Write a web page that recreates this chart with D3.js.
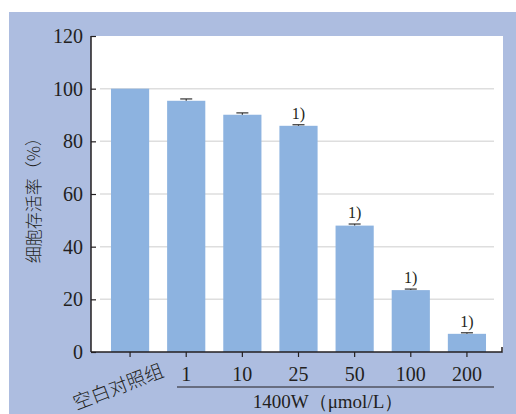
<!DOCTYPE html>
<html>
<head>
<meta charset="utf-8">
<script src="https://cdn.jsdelivr.net/npm/d3@7"></script>
<style>
  body { margin: 0; background: #fff; }
  svg { display: block; }
</style>
</head>
<body>
<div id="chart"></div>
<script>
const categories = ["空白对照组", "1", "10", "25", "50", "100", "200"];
const values = [100, 95.4, 90.1, 85.9, 48.0, 23.5, 6.9];
const errors = [0, 0.7, 0.7, 0.4, 0.6, 0.4, 0.4];
const marks = ["", "", "", "1)", "1)", "1)", "1)"];
const yTicks = [0, 20, 40, 60, 80, 100, 120];

const width = 516;
const height = 414;
const serif = "'Liberation Serif', 'Times New Roman', serif";
const cjk = "'Noto Sans CJK SC', sans-serif";

const svg = d3.select("#chart")
  .append("svg")
  .attr("width", width)
  .attr("height", height);

// blue panel + white plot area
svg.append("rect").attr("x", 9).attr("y", 12).attr("width", width - 9).attr("height", height - 12).attr("fill", "#adbde0");
svg.append("rect").attr("x", 91).attr("y", 36).attr("width", 412).attr("height", 316).attr("fill", "#fff");

const x = d3.scaleBand()
  .domain(categories)
  .range([102, 495])
  .paddingInner(0.32)
  .paddingOuter(0.16);

const y = d3.scaleLinear()
  .domain([0, 120])
  .range([352, 36]);

// grid lines
svg.append("g")
  .selectAll("line")
  .data(yTicks.filter((d) => d > 0 && d < 120))
  .enter()
  .append("line")
  .attr("x1", 100)
  .attr("x2", 494)
  .attr("y1", (d) => y(d))
  .attr("y2", (d) => y(d))
  .attr("stroke", "#dedede")
  .attr("stroke-width", 1.5);

// bars
svg.selectAll(".bar")
  .data(categories)
  .enter()
  .append("rect")
  .attr("class", "bar")
  .attr("x", (d) => x(d))
  .attr("y", (d, i) => y(values[i]))
  .attr("width", x.bandwidth())
  .attr("height", (d, i) => y(0) - y(values[i]))
  .attr("fill", "#8db3e0");

// error bars
const eb = svg.append("g").attr("stroke", "#333").attr("stroke-width", 1.2);
categories.forEach((c, i) => {
  if (!errors[i]) return;
  const cx = x(c) + x.bandwidth() / 2;
  eb.append("line").attr("x1", cx).attr("x2", cx).attr("y1", y(values[i])).attr("y2", y(values[i] + errors[i]));
  eb.append("line").attr("x1", cx - 6).attr("x2", cx + 6).attr("y1", y(values[i] + errors[i])).attr("y2", y(values[i] + errors[i]));
});

// "1)" marks
svg.selectAll(".mark")
  .data(categories)
  .enter()
  .append("text")
  .attr("x", (d) => x(d) + x.bandwidth() / 2)
  .attr("y", (d, i) => y(values[i] + errors[i]) - 6)
  .attr("text-anchor", "middle")
  .attr("font-family", serif)
  .attr("font-size", 16)
  .attr("fill", "#231f20")
  .text((d, i) => marks[i]);

// y axis
const yAxis = svg.append("g")
  .attr("transform", "translate(91,0)")
  .call(d3.axisRight(y).tickValues(yTicks).tickSize(5).tickPadding(0));
yAxis.select(".domain").attr("stroke", "#231f20").attr("stroke-width", 1.5).attr("d", "M0,36V352");
yAxis.selectAll(".tick line").attr("stroke", "#231f20").attr("stroke-width", 1.2);
yAxis.selectAll(".tick text")
  .attr("x", -8)
  .attr("text-anchor", "end")
  .attr("font-family", serif)
  .attr("font-size", 20)
  .attr("fill", "#231f20");

// x axis
const xAxis = svg.append("g")
  .attr("transform", "translate(0,352)")
  .call(d3.axisBottom(x).tickSize(5).tickPadding(6));
xAxis.select(".domain").attr("stroke", "#231f20").attr("stroke-width", 1.5).attr("d", "M91,0H502V-5");
xAxis.selectAll(".tick line").attr("stroke", "#231f20").attr("stroke-width", 1.2);
xAxis.selectAll(".tick text")
  .attr("font-family", serif)
  .attr("font-size", 20)
  .attr("fill", "#231f20")
  .attr("dy", "0.9em");
xAxis.selectAll(".tick")
  .filter((d) => d === categories[0])
  .select("text")
  .attr("font-family", cjk)
  .attr("font-size", 19)
  .attr("font-weight", 300)
  .attr("text-anchor", "end")
  .attr("dy", 0)
  .attr("transform", "translate(35,24) rotate(-21)")
  .attr("y", 0)
  .attr("x", 0);

// group line and label
svg.append("line")
  .attr("x1", 177).attr("x2", 494)
  .attr("y1", 387).attr("y2", 387)
  .attr("stroke", "#231f20").attr("stroke-width", 1.2);

svg.append("text")
  .attr("x", 328)
  .attr("y", 408)
  .attr("text-anchor", "middle")
  .attr("font-family", serif)
  .attr("font-size", 19)
  .attr("fill", "#231f20")
  .text("1400W（μmol/L）");

// y label
svg.append("text")
  .attr("transform", "translate(40,196) rotate(-90)")
  .attr("text-anchor", "middle")
  .attr("font-family", cjk)
  .attr("font-size", 17)
  .attr("font-weight", 300)
  .attr("fill", "#231f20")
  .text("细胞存活率（%）");
</script>
</body>
</html>
